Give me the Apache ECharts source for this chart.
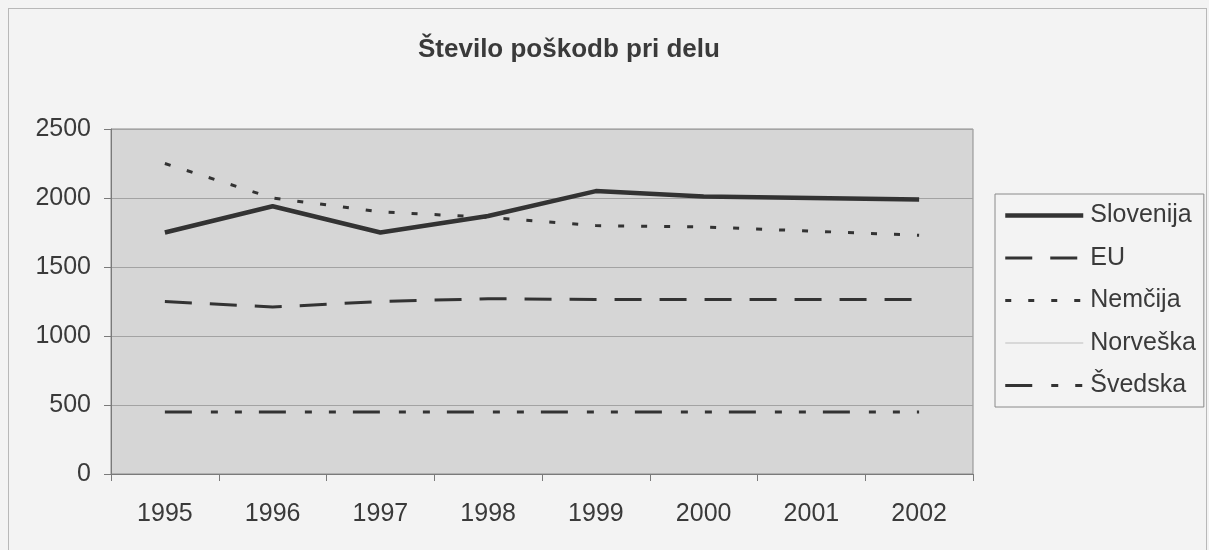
<!DOCTYPE html>
<html>
<head>
<meta charset="utf-8">
<script src="https://cdn.jsdelivr.net/npm/echarts@6/dist/echarts.min.js"></script>
<style>
  html, body { margin: 0; padding: 0; background: #f3f3f3; }
  #frame {
    position: absolute; left: 8px; top: 8px; width: 1199px; height: 560px;
    border: 1px solid #b8b8b8; box-sizing: border-box;
  }
  #chart { position: absolute; left: 0; top: 0; width: 1209px; height: 550px; }
</style>
</head>
<body>
<div id="frame"></div>
<div id="chart"></div>
<script>
// leta
const years = ["1995", "1996", "1997", "1998", "1999", "2000", "2001", "2002"];
// vrednosti po državah
const slovenija = [1750, 1940, 1750, 1870, 2050, 2010, 2000, 1990];
const eu = [1250, 1210, 1250, 1270, 1265, 1265, 1265, 1265];
const nemcija = [2250, 2000, 1900, 1860, 1800, 1790, 1760, 1730];
const norveska = [null, null, null, null, null, null, null, null];
const svedska = [450, 450, 450, 450, 450, 450, 450, 450];
const yTicks = [0, 500, 1000, 1500, 2000, 2500];

const textColor = "#3a3a3a";
const lineColor = "#333333";
const font = "Liberation Sans, Arial, sans-serif";

function lineSeries(name, data, type, width, color) {
  return {
    name: name,
    type: "line",
    data: data,
    symbol: "none",
    connectNulls: false,
    color: color || lineColor,
    lineStyle: {
      color: color || lineColor,
      width: width,
      type: type,
    },
  };
}

const myChart = echarts.init(document.getElementById("chart"));
const options = {
  backgroundColor: "transparent",
  animation: false,
  title: {
    text: "Število poškodb pri delu",
    left: 413,
    top: 32,
    textStyle: {
      color: textColor,
      fontSize: 26,
      fontWeight: "bold",
      fontFamily: font,
    },
  },
  legend: {
    orient: "vertical",
    left: 995,
    top: 194,
    padding: [9, 8, 9, 8],
    itemGap: 17.5,
    itemWidth: 78,
    itemHeight: 14,
    borderColor: "#8a8a8a",
    borderWidth: 1,
    backgroundColor: "#f3f3f3",
    itemStyle: { opacity: 0 },
    lineStyle: { opacity: 1, width: "inherit" },
    textStyle: {
      color: textColor,
      fontSize: 25,
      fontFamily: font,
      padding: [0, 0, 0, 2],
    },
    data: ["Slovenija", "EU", "Nemčija", "Norveška", "Švedska"],
  },
  grid: {
    left: 111,
    right: 236,
    top: 129,
    bottom: 76,
    show: true,
    backgroundColor: "#d6d6d6",
    borderColor: "#8c8c8c",
    borderWidth: 1,
  },
  xAxis: {
    type: "category",
    data: years,
    boundaryGap: true,
    axisLine: { lineStyle: { color: "#7a7a7a", width: 1 } },
    axisTick: { show: true, length: 7, lineStyle: { color: "#7a7a7a" } },
    axisLabel: {
      color: textColor,
      fontSize: 25,
      fontFamily: font,
      margin: 28,
    },
  },
  yAxis: {
    type: "value",
    min: yTicks[0],
    max: yTicks[yTicks.length - 1],
    interval: 500,
    axisLine: { show: true, lineStyle: { color: "#7a7a7a", width: 1 } },
    axisTick: { show: true, length: 7, lineStyle: { color: "#7a7a7a" } },
    axisLabel: {
      color: textColor,
      fontSize: 25,
      fontFamily: font,
      margin: 20,
      formatter: function (value) {
        return String(value);
      },
    },
    splitLine: { lineStyle: { color: "#a3a3a3", width: 1 } },
  },
  series: [
    lineSeries("Slovenija", slovenija, "solid", 4.5),
    lineSeries("EU", eu, [27, 18], 3),
    lineSeries("Nemčija", nemcija, [6, 17], 3),
    lineSeries("Norveška", norveska, "solid", 1.5, "#cfcfcf"),
    lineSeries("Švedska", svedska, [27, 19, 7, 17, 7, 17], 3),
  ],
};
myChart.setOption(options, true);
</script>
</body>
</html>
